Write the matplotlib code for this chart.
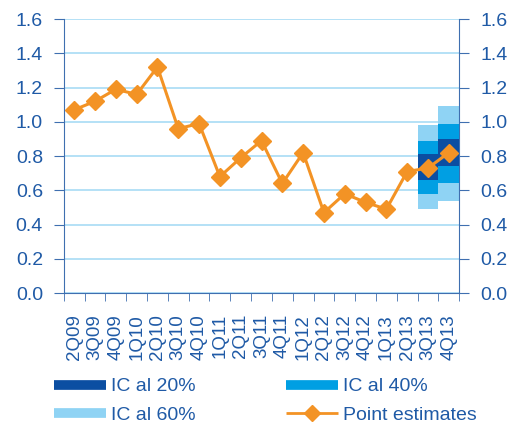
import matplotlib.pyplot as plt
from matplotlib.lines import Line2D
import numpy as np

plt.rcParams['font.family'] = ['Liberation Sans', 'DejaVu Sans']

quarters = ['2Q09', '3Q09', '4Q09', '1Q10', '2Q10', '3Q10', '4Q10',
            '1Q11', '2Q11', '3Q11', '4Q11', '1Q12', '2Q12', '3Q12',
            '4Q12', '1Q13', '2Q13', '3Q13', '4Q13']
point_est = [1.07, 1.12, 1.19, 1.16, 1.32, 0.96, 0.99, 0.68, 0.79, 0.89,
             0.64, 0.82, 0.47, 0.58, 0.53, 0.49, 0.71, 0.73, 0.82]

# confidence bands for the last two quarters
band_quarters = ['3Q13', '4Q13']
ic60_low = [0.49, 0.54]
ic60_high = [0.98, 1.09]
ic40_low = [0.58, 0.64]
ic40_high = [0.89, 0.99]
ic20_low = [0.66, 0.74]
ic20_high = [0.81, 0.90]

text_col = '#1F5AA6'
axis_col = '#3F6FB0'
c20 = '#0B4EA2'
c40 = '#009FE3'
c60 = '#8FD3F4'
orange = '#F39325'

fig = plt.figure(figsize=(5.23, 4.23), dpi=100)
ax = fig.add_axes([0.122, 0.307, 0.756, 0.648])

x = np.arange(len(quarters))
bx = [quarters.index(q) for q in band_quarters]

ax.bar(bx, np.array(ic60_high) - np.array(ic60_low), bottom=ic60_low, width=1.0, color=c60, zorder=2)
ax.bar(bx, np.array(ic40_high) - np.array(ic40_low), bottom=ic40_low, width=1.0, color=c40, zorder=3)
ax.bar(bx, np.array(ic20_high) - np.array(ic20_low), bottom=ic20_low, width=1.0, color=c20, zorder=4)
ax.plot(x, point_est, color=orange, lw=2.2, marker='D', ms=9, zorder=5)

ax.set_xlim(-0.5, len(quarters) - 0.5)
ax.set_ylim(0, 1.6)
ax.set_yticks(np.arange(0, 1.61, 0.2))
ax.set_yticklabels(['%.1f' % v for v in np.arange(0, 1.61, 0.2)])
ax.yaxis.grid(True, color='#A8DCF5', lw=1.2, zorder=0)
ax.set_axisbelow(True)

ax.set_xticks(x)
ax.set_xticklabels(quarters, rotation=90, fontsize=13.5, color=text_col)
ax.set_xticks(np.arange(-0.5, len(quarters)), minor=True)
ax.tick_params(axis='x', which='major', length=0, pad=15)
ax.tick_params(axis='x', which='minor', length=6, color=axis_col, direction='out')
ax.tick_params(axis='y', length=7, color=axis_col, labelsize=14, labelcolor=text_col,
               right=True, labelright=True, pad=8)

for s in ['left', 'right', 'bottom']:
    ax.spines[s].set_color(axis_col)
ax.spines['top'].set_visible(False)

handles = [
    Line2D([], [], color=c20, lw=7, solid_capstyle='butt'),
    Line2D([], [], color=c60, lw=7, solid_capstyle='butt'),
    Line2D([], [], color=c40, lw=7, solid_capstyle='butt'),
    Line2D([], [], color=orange, lw=2, marker='D', ms=8, solid_capstyle='butt'),
]
labels = ['IC al 20%', 'IC al 60%', 'IC al 40%', 'Point estimates']
leg = fig.legend(handles, labels, ncol=2, loc='upper left', bbox_to_anchor=(0.103, 0.107),
                 frameon=False, fontsize=14, handlelength=2.67, handletextpad=0.26,
                 columnspacing=4.68, labelspacing=0.55, borderpad=0, borderaxespad=0)
for t in leg.get_texts():
    t.set_color(text_col)

fig.savefig('out.png', dpi=100)
